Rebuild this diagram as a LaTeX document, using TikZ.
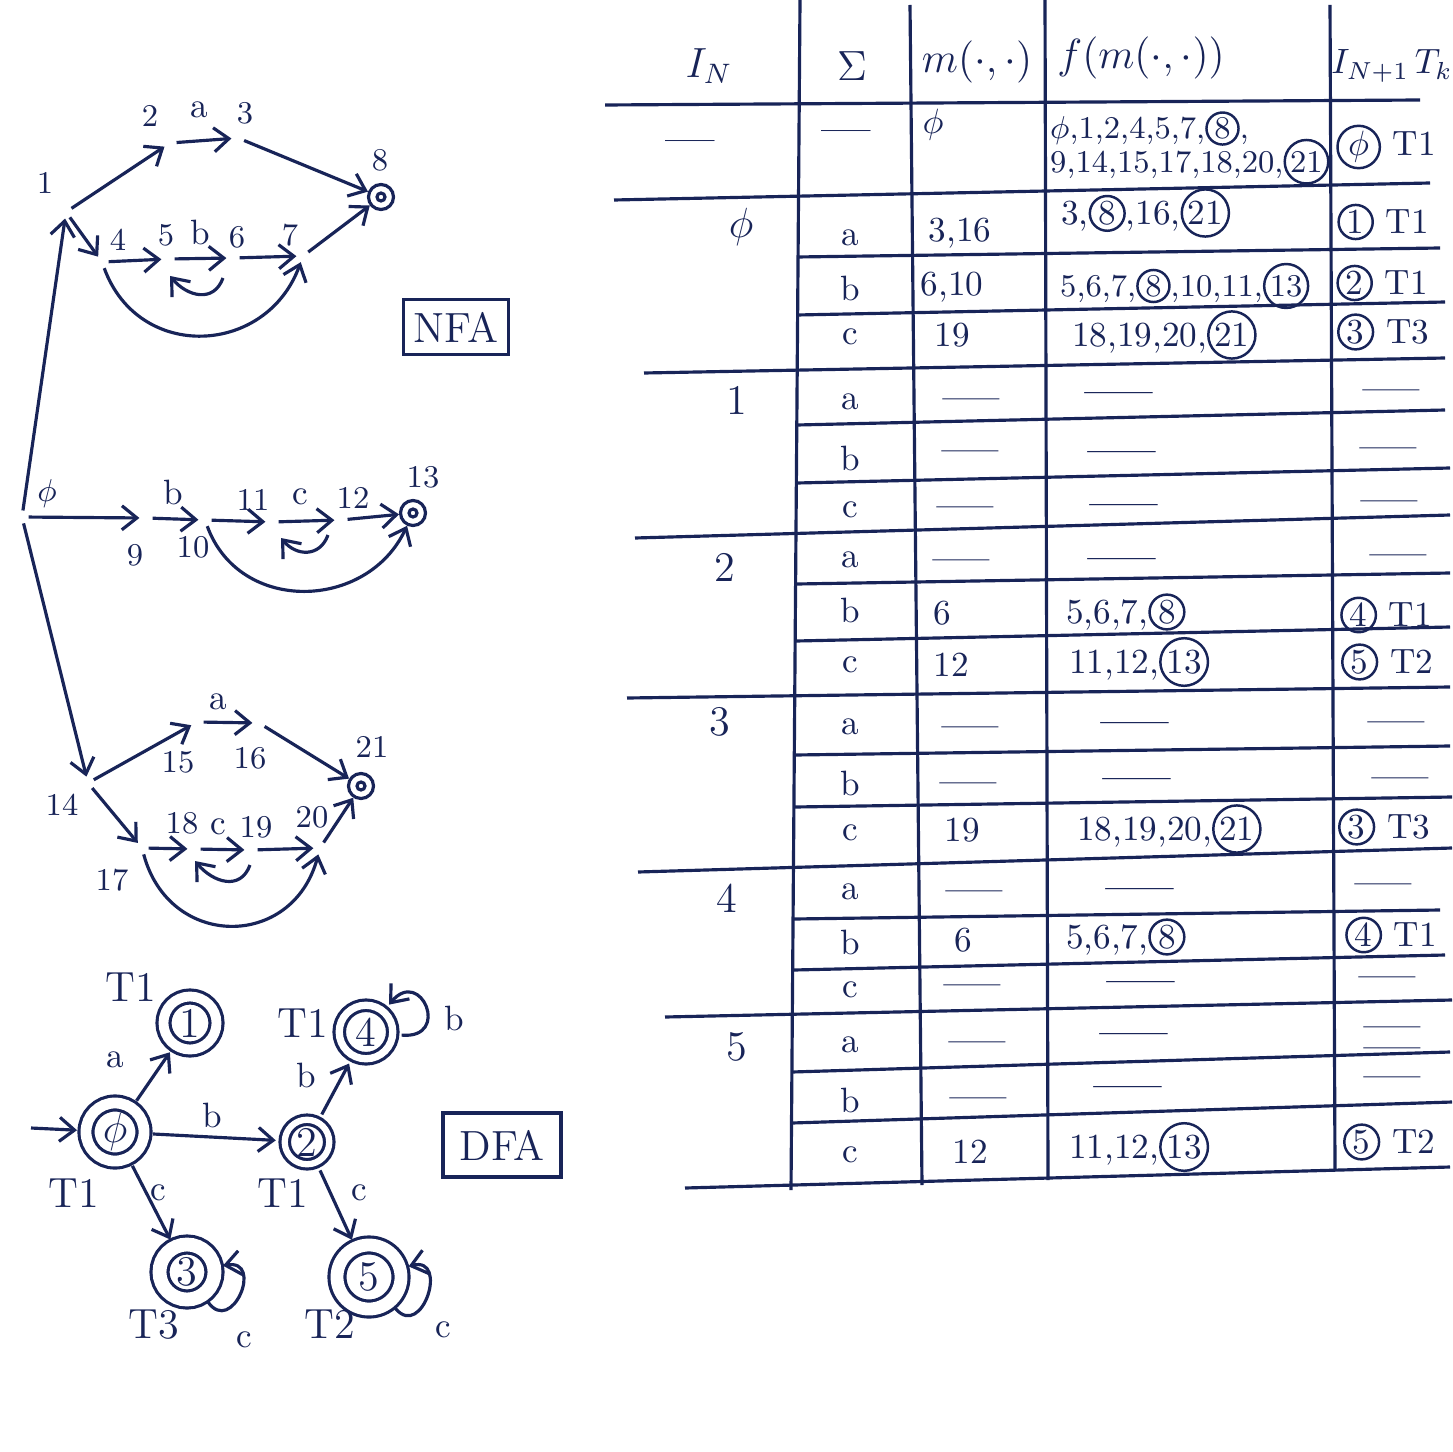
\documentclass[tikz,border=0pt]{standalone}
\usepackage{amsmath, amssymb}
\usepackage{xcolor}
\usepackage{tikz}
\usetikzlibrary{arrows.meta, positioning, shapes.geometric}
\definecolor{ink}{RGB}{24,36,88}

\newcommand{\cnum}[1]{\tikz[baseline=(cn.base)]\node[circle, draw=ink, line width=0.7pt, inner sep=0.5pt] (cn) {#1};}

\begin{document}
\begin{tikzpicture}[
  x=0.01cm, y=-0.01cm, color=ink, line width=0.9pt,
  arr/.style={-{Straight Barb[length=1.5mm, width=2.4mm]}},
  st/.style={circle, inner sep=0pt, minimum size=0.1cm},
  fin/.style={circle, draw, inner sep=0pt, minimum size=0.25cm,
    path picture={\draw (path picture bounding box.center) circle (0.04cm);}},
  lbl/.style={font=\small, inner sep=1pt},
  sym/.style={font=\normalsize, inner sep=1pt},
  tag/.style={draw, font=\large, inner sep=0pt},
  dfa/.style={circle, draw, double, inner sep=0pt, outer sep=0.09cm, font=\large},
  tl/.style={font=\large, inner sep=1pt},
  cell/.style={font=\normalsize, inner sep=1pt},
  blank/.style={font=\LARGE, inner sep=0pt, yshift=-0.1cm},
  wblank/.style={font=\huge, inner sep=0pt, yshift=-0.11cm}
]
  \path[use as bounding box, fill=white] (0,0) rectangle (1452,1452);

  % NFA, first branch
  \node[st] (q1) at (66,212) {};
  \node[st] (q2) at (170,143) {};
  \node[st] (q3) at (238,138) {};
  \node[fin] (q8) at (381,197) {};
  \node[st] (q4) at (102,262) {};
  \node[st] (q5) at (168,259) {};
  \node[st] (q6) at (233,258) {};
  \node[st] (q7) at (303,256) {};

  \node[lbl] (l1) at (45,183) {1};
  \node[lbl] (l2) at (150,116) {2};
  \node[sym] (la1) at (199,110) {a};
  \node[lbl] (l3) at (245,113) {3};
  \node[lbl] (l8) at (380,160) {8};
  \node[lbl] (l4) at (118,240) {4};
  \node[lbl] (l5) at (166,235) {5};
  \node[sym] (lb1) at (200,232) {b};
  \node[lbl] (l6) at (237,237) {6};
  \node[lbl] (l7) at (290,235) {7};

  \draw[arr] (q1) -- (q2);
  \draw[arr] (q2) -- (q3);
  \draw[arr] (q3) -- (q8);
  \draw[arr] (q1) -- (q4);
  \draw[arr] (q4) -- (q5);
  \draw[arr] (q5) -- (q6);
  \draw[arr] (q6) -- (q7);
  \draw[arr] (q7) -- (q8);
  \draw[arr] ([shift={(-10,20)}]q6.center) to[out=-110, in=-50, looseness=1.3]
    ([shift={(2,17)}]q5.center);
  \draw[arr] (q4) to[out=-70, in=-110, looseness=1.3] (q7);

  \node[tag, minimum width=1.05cm, minimum height=0.55cm] (nfa) at (456,327) {NFA};

  % NFA, second branch
  \node[st] (q0) at (22,517) {};
  \node[st] (q9) at (146,518) {};
  \node[st] (q10) at (205,520) {};
  \node[st] (q11) at (272,522) {};
  \node[st] (q12) at (341,520) {};
  \node[fin] (q13) at (413,513) {};

  \node[lbl] (l0) at (47,494) {$\phi$};
  \node[sym] (lb2) at (173,492) {b};
  \node[lbl] (l9) at (135,555) {9};
  \node[lbl] (l10) at (193,547) {10};
  \node[lbl] (l11) at (253,500) {11};
  \node[sym] (lc1) at (300,497) {c};
  \node[lbl] (l12) at (353,498) {12};
  \node[lbl] (l13) at (423,477) {13};

  \draw[arr] (q0) -- (q1);
  \draw[arr] (q0) -- (q9);
  \draw[arr] (q9) -- (q10);
  \draw[arr] (q10) -- (q11);
  \draw[arr] (q11) -- (q12);
  \draw[arr] (q12) -- (q13);
  \draw[arr] ([shift={(-13,15)}]q12.center) to[out=-110, in=-50, looseness=1.3]
    ([shift={(9,16)}]q11.center);
  \draw[arr] (q10) to[out=-70, in=-115, looseness=1.2] (q13);

  % NFA, third branch
  \node[st] (q14) at (88,783) {};
  \node[st] (q15) at (197,722) {};
  \node[st] (q16) at (259,723) {};
  \node[fin] (q21) at (361,786) {};
  \node[st] (q17) at (142,848) {};
  \node[st] (q18) at (194,849) {};
  \node[st] (q19) at (251,850) {};
  \node[st] (q20) at (320,848) {};

  \node[lbl] (l14) at (62,805) {14};
  \node[lbl] (l15) at (178,762) {15};
  \node[sym] (la2) at (218,702) {a};
  \node[lbl] (l16) at (250,758) {16};
  \node[lbl] (l21) at (372,747) {21};
  \node[lbl] (l17) at (112,880) {17};
  \node[lbl] (l18) at (182,823) {18};
  \node[sym] (lc2) at (218,827) {c};
  \node[lbl] (l19) at (256,827) {19};
  \node[lbl] (l20) at (312,817) {20};

  \draw[arr] (q0) -- (q14);
  \draw[arr] (q14) -- (q15);
  \draw[arr] (q15) -- (q16);
  \draw[arr] (q16) -- (q21);
  \draw[arr] (q14) -- (q17);
  \draw[arr] (q17) -- (q18);
  \draw[arr] (q18) -- (q19);
  \draw[arr] (q19) -- (q20);
  \draw[arr] (q20) -- (q21);
  \draw[arr] ([shift={(-1,15)}]q19.center) to[out=-110, in=-50, looseness=1.3]
    ([shift={(1,12)}]q18.center);
  \draw[arr] (q17) to[out=-75, in=-105, looseness=1.45] (q20);

  % DFA
  \node[dfa, minimum size=0.58cm, double distance=0.108cm] (d0) at (115,1132) {$\phi$};
  \node[dfa, minimum size=0.53cm, double distance=0.098cm] (d1) at (190,1023) {1};
  \node[dfa, minimum size=0.445cm, double distance=0.063cm] (d2) at (307,1142) {2};
  \node[dfa, minimum size=0.535cm, double distance=0.073cm] (d4) at (366,1032) {4};
  \node[dfa, minimum size=0.55cm, double distance=0.138cm] (d3) at (187,1272) {3};
  \node[dfa, minimum size=0.64cm, double distance=0.128cm] (d5) at (369,1277) {5};
  \coordinate (start) at (31,1128);

  \node[tl] (t1) at (131,987) {T1};
  \node[tl] (t0) at (74,1193) {T1};
  \node[tl] (t2) at (283,1193) {T1};
  \node[tl] (t4) at (303,1023) {T1};
  \node[tl] (t3) at (154,1325) {T3};
  \node[tl] (t5) at (330,1324) {T2};

  \node[sym] (ea) at (115,1060) {a};
  \node[sym] (eb1) at (212,1115) {b};
  \node[sym] (ec1) at (158,1193) {c};
  \node[sym] (eb2) at (306,1075) {b};
  \node[sym] (ec2) at (359,1193) {c};
  \node[sym] (eb4) at (454,1018) {b};
  \node[sym] (ec3) at (244,1340) {c};
  \node[sym] (ec5) at (443,1330) {c};

  \draw[arr] (start) -- (d0);
  \draw[arr] (d0) -- (d1);
  \draw[arr] (d0) -- (d2);
  \draw[arr] (d0) -- (d3);
  \draw[arr] (d2) -- (d4);
  \draw[arr] (d2) -- (d5);
  \draw[arr] (d4.-5) .. controls +(-5:0.5cm) and +(50:0.5cm) .. (d4.50);
  \draw[arr] (d3.-55) .. controls +(-55:0.42cm) and +(10:0.42cm) .. (d3.10);
  \draw[arr] (d5.-50) .. controls +(-50:0.42cm) and +(15:0.42cm) .. (d5.15);

  \node[tag, minimum width=1.18cm, minimum height=0.64cm] (dfa) at (502,1145) {DFA};

  % table rules
  \foreach \xa/\ya/\xb/\yb in {800/0/791/1190, 910/5/922/1185, 1045/0/1048/1180, 1330/5/1335/1170}
    \draw (\xa,\ya) -- (\xb,\yb);
  \foreach \xa/\ya/\xb/\yb in {605/105/1420/100, 614/200/1430/183, 797/257/1440/248,
      797/315/1445/302, 644/373/1445/358, 797/425/1445/410, 797/483/1450/468,
      635/538/1450/515, 797/584/1450/573, 796/641/1450/627, 627/698/1450/687,
      795/755/1450/746, 795/807/1452/797, 638/872/1452/848, 794/919/1440/910,
      794/970/1445/955, 665/1017/1452/1000, 792/1072/1450/1052, 792/1123/1452/1102,
      685/1188/1450/1167}
    \draw (\xa,\ya) -- (\xb,\yb);

  % table head
  \node[tl] (hIn) at (709,66) {$I_N$};
  \node[tl] (hSig) at (852,66) {$\Sigma$};
  \node[tl] (hM) at (977,62) {$m(\cdot,\cdot)$};
  \node[tl] (hF) at (1141,58) {$f(m(\cdot,\cdot))$};
  \node[tl, font=\normalsize] (hNext) at (1392,66) {$I_{N+1}\,T_k$};

  % first row
  \node[blank, font=\Large] (in0) at (690,138) {---};
  \node[blank, font=\Large] (sig0) at (846,128) {---};
  \node[cell] (m0) at (933,125) {$\phi$};
  \node[cell, font=\small, anchor=west, align=left] (f0) at (1046,148)
    {$\phi$,1,2,4,5,7,\cnum{8},\\[-3pt]9,14,15,17,18,20,\cnum{21}};
  \node[cell] (n0) at (1386,147) {\cnum{$\phi$}~T1};

  % state column and symbol column
  \foreach \x/\y/\t [count=\i] in {741/227/$\phi$, 737/400/1, 725/567/2, 720/722/3, 727/898/4, 737/1047/5}
    \node[cell, font=\large] (in\i) at (\x,\y) {\t};
  \foreach \y/\c [count=\i] in {238/a, 288/b, 337/c, 402/a, 458/b, 510/c, 560/a, 610/b, 665/c,
      727/a, 783/b, 833/c, 892/a, 942/b, 990/c, 1045/a, 1100/b, 1155/c}
    \node[cell] (sig\i) at (850,\y) {\c};

  % filled cells
  \node[cell] (m1) at (960,233) {3,16};
  \node[cell, anchor=west] (f1) at (1057,213) {3,\cnum{8},16,\cnum{21}};
  \node[cell] (n1) at (1383,222) {\cnum{1}~T1};
  \node[cell] (m2) at (952,287) {6,10};
  \node[cell, anchor=west, font=\small] (f2) at (1056,286) {5,6,7,\cnum{8},10,11,\cnum{13}};
  \node[cell] (n2) at (1382,283) {\cnum{2}~T1};
  \node[cell] (m3) at (952,335) {19};
  \node[cell, anchor=west] (f3) at (1068,335) {18,19,20,\cnum{21}};
  \node[cell] (n3) at (1383,332) {\cnum{3}~T3};
  \node[cell] (m8) at (942,613) {6};
  \node[cell, anchor=west] (f8) at (1062,612) {5,6,7,\cnum{8}};
  \node[cell] (n8) at (1386,615) {\cnum{4}~T1};
  \node[cell] (m9) at (951,665) {12};
  \node[cell, anchor=west] (f9) at (1065,662) {11,12,\cnum{13}};
  \node[cell] (n9) at (1387,662) {\cnum{5}~T2};
  \node[cell] (m12) at (962,830) {19};
  \node[cell, anchor=west] (f12) at (1073,829) {18,19,20,\cnum{21}};
  \node[cell] (n12) at (1384,827) {\cnum{3}~T3};
  \node[cell] (m14) at (963,940) {6};
  \node[cell, anchor=west] (f14) at (1062,937) {5,6,7,\cnum{8}};
  \node[cell] (n14) at (1391,935) {\cnum{4}~T1};
  \node[cell] (m18) at (970,1152) {12};
  \node[cell, anchor=west] (f18) at (1065,1147) {11,12,\cnum{13}};
  \node[cell] (n18) at (1389,1142) {\cnum{5}~T2};

  % empty cells
  \foreach \x/\y [count=\i] in {971/397, 970/449, 965/505, 961/558, 970/725, 968/781,
      974/889, 972/983, 977/1040, 978/1096}
    \node[blank] (bm\i) at (\x,\y) {---};
  \foreach \x/\y [count=\i] in {1119/392, 1122/450, 1124/503, 1122/557, 1135/721, 1137/777,
      1140/887, 1141/980, 1134/1032, 1128/1085}
    \node[wblank] (bf\i) at (\x,\y) {---};
  \foreach \x/\y [count=\i] in {1391/388, 1388/446, 1389/499, 1398/553, 1396/720, 1400/776,
      1383/882, 1387/975, 1392/1075}
    \node[blank] (bn\i) at (\x,\y) {---};
  \node[blank, align=center] (bn10) at (1392,1036) {---\\[-16pt]---};
\end{tikzpicture}
\end{document}
